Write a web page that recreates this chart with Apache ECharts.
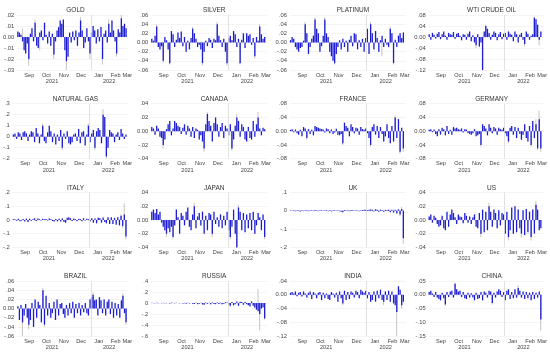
<!DOCTYPE html>
<html><head><meta charset="utf-8">
<script src="https://cdn.jsdelivr.net/npm/echarts@6/dist/echarts.min.js"></script>
<style>html,body{margin:0;padding:0;background:#fff}#c{width:550px;height:353px}</style>
</head><body><div id="c"></div>
<script>
// ---- data (returns, sampled roughly every other trading day, 26 Aug 2021 - 4 Mar 2022) ----
const panelNames = ['GOLD','SILVER','PLATINUM','WTI CRUDE OIL','NATURAL GAS','CANADA','FRANCE','GERMANY','ITALY','JAPAN','UK','US','BRAZIL','RUSSIA','INDIA','CHINA'];
const gold = [.005,.004,.002,-.004,-.012,-.015,-.006,-.02,.003,.008, -.004,.013,-.008,-.01,.004,.006,-.003,.013,.002,-.006, .005,-.008,.003,-.016,-.004,.006,.009,.015,.012,.016, -.012,-.022,-.018,.004,-.005,.005,-.003,.006,-.008,.004, .015,.006,-.01,-.005,.008,-.004,-.015,.004,.01,.006, -.006,.007,-.004,.009,-.02,.003,.006,-.005,.012,.004, .015,.006,-.004,-.015,.007,.004,.017,.01,.012,.008];
const silver = [.008,.004,.015,.035,-.01,-.015,-.008,-.04,.012,.005, -.015,-.045,.025,.018,-.01,.006,.022,.01,.024,-.008, .012,-.02,.004,-.015,.01,.03,.02,.008,-.01,-.005, -.015,-.045,-.02,.004,-.008,.01,.006,-.012,.008,.005, .04,.015,.005,-.01,.008,-.02,-.045,.01,.015,.005, .025,.018,-.01,.008,-.045,.006,.02,-.012,.02,.015, .018,-.005,.01,-.03,.012,.004,.035,.018,.008,.012];
const platinum = [.005,.012,.008,-.01,-.015,-.02,-.012,-.01,.004,.04, .02,-.025,-.01,.008,.015,.05,.03,.02,-.02,-.008, .015,.05,.02,.012,-.02,-.03,-.04,-.045,-.025,-.01, .005,-.015,.008,-.01,.004,-.02,.006,.015,-.008,.02, .018,-.015,.005,-.01,.008,-.02,.01,.03,-.025,.04, .02,-.015,.025,.01,-.02,.005,.015,-.01,.008,-.005, -.01,.03,.02,-.045,.006,-.01,.015,.02,.01,.022];
const wti = [.01,-.01,.015,.008,-.005,.012,.018,-.008,.01,.02, .005,-.01,.015,.01,.008,.018,-.006,.012,.015,.005, -.012,.01,.008,-.01,.012,.02,-.015,.006,-.02,-.03, .01,-.035,-.02,-.13,.02,.04,.03,.015,-.01,.008, .02,.015,-.012,.01,.018,-.008,.012,.015,-.01,.02, .012,.008,-.015,.02,.01,-.02,.008,.015,-.01,-.025, .02,.012,-.01,.005,.01,.07,.065,.045,-.01,.02];
const natgas = [.02,.03,-.02,.04,.03,-.03,.04,.05,.03,-.04, .02,.05,.04,-.05,.08,.03,-.06,.02,.1,-.04, -.06,.04,.1,.05,-.05,.03,-.07,.02,-.04,.06, -.1,.03,-.02,.05,-.06,-.07,-.05,.02,.03,-.04, .07,-.06,.04,.05,-.08,.02,.1,-.05,.03,.06, -.1,.05,.08,.06,-.06,.2,.18,-.18,-.1,.06, .04,.03,-.05,.02,.04,-.03,.07,.03,-.02,.02];
const canada = [.006,.004,-.005,.008,.004,-.008,-.01,-.02,-.012,.003, .01,.015,-.006,.004,.015,.012,.008,.006,-.004,.005, .01,-.005,.008,.004,-.008,.006,-.01,.004,.002,-.012, -.006,-.015,-.025,.01,.025,.015,.008,-.015,.012,.02, .01,-.008,.006,.012,-.01,.008,.004,-.006,.01,-.025, -.012,.008,.02,.015,-.008,.01,.006,-.012,-.015,.006, -.01,-.012,.015,-.008,.01,.02,.004,-.006,.005,.003];
const france = [.004,.006,-.003,.005,-.006,-.01,.004,-.015,.012,.008, -.02,.006,-.008,.004,-.012,.015,.012,.01,.008,.006, .005,-.004,.008,.006,-.006,.005,-.008,-.004,.007,-.01, -.012,-.008,-.035,.025,.015,.01,-.015,.02,.012,-.006, .01,.008,-.01,.012,.006,.004,.008,-.006,-.02,-.04, .012,.02,-.01,.015,-.02,.012,-.008,-.03,-.015,.02, -.02,-.035,.015,-.03,.04,-.02,.035,-.06,.01,-.05];
const germany = [.004,.006,-.003,.005,-.008,-.015,.006,-.01,.01,.006, -.012,.015,-.008,.004,-.01,.012,.008,.01,.006,.004, .008,-.004,.006,.005,-.005,-.008,-.01,-.006,.006,-.015, -.012,-.008,-.04,.02,.015,.008,-.012,.02,.01,-.006, .012,.008,-.01,.01,.006,.004,.01,-.006,-.015,-.03, .01,.015,-.01,.012,-.02,.01,-.008,-.025,-.01,.02, -.02,-.03,.015,-.04,.03,-.02,.02,-.05,.035,-.05];
const italy = [.005,.004,-.006,.008,-.01,-.005,.006,-.012,.01,-.015, .008,-.006,.004,.012,-.008,.01,.006,-.004,.008,.005, .006,-.004,.01,.005,-.008,-.012,.006,-.01,.008,-.012, .01,-.015,-.02,.015,.02,.012,-.008,.01,.006,-.01, .008,.006,-.01,.012,-.005,.008,.006,-.01,.012,-.02, .01,-.025,.015,.012,-.02,.018,-.015,-.025,.02,-.03, .02,-.03,.015,-.035,.02,-.04,.03,-.045,.04,-.12];
const japan = [.012,.015,.01,.016,.008,.012,-.004,-.01,-.015,-.02, -.012,-.018,-.01,-.025,-.008,.015,.004,-.02,.01,.006, -.008,.012,.018,-.01,-.015,.008,.02,-.012,.005,.01, -.008,.012,-.02,.006,-.015,.01,.008,-.02,.012,-.006, .004,-.01,.008,-.012,.006,-.008,.012,-.015,-.025,-.01, .015,-.02,-.04,.018,.012,-.015,.01,-.018,.008,-.012, .01,-.015,.012,-.02,-.008,.01,.004,-.015,.008,-.025];
const uk = [.002,-.002,.003,-.003,.002,.002,-.004,.003,-.002,.002, .003,-.003,.002,.002,-.002,.004,.002,-.003,.002,.003, -.002,.002,.003,-.003,.002,-.004,.003,.002,-.002,.003, -.003,-.005,-.008,.004,.003,.002,-.003,.004,.003,-.002, .003,.002,-.003,.002,.004,.005,.006,.004,.005,.007, .006,-.004,.008,.005,-.005,.006,.004,-.006,.005,.004, .006,-.008,.005,-.01,.006,-.015,.008,-.02,.01,-.15];
const us = [.005,.008,-.004,.006,.003,-.006,-.01,-.008,.006,-.012, -.015,.012,-.01,.008,.015,.01,.004,-.006,.008,.005, .004,-.005,.01,.006,-.004,.005,-.006,.004,.008,-.01, -.012,.01,-.02,.015,-.018,.012,-.015,.02,.012,-.01, .015,.01,-.012,.014,-.008,.01,.008,-.02,.012,-.025, -.015,.018,-.02,.02,-.018,.015,-.012,-.02,.014,-.022, .016,-.018,.012,-.025,.015,-.02,.022,.015,-.015,-.012];
const brazil = [.005,-.025,.008,-.03,-.015,.01,-.02,-.035,-.025,.012, -.04,.02,-.02,.015,.008,-.03,.04,-.035,.028,-.015, .012,-.02,-.01,.015,-.025,.02,-.015,.01,.012,-.012, -.02,.008,-.015,.012,-.01,.015,-.02,.01,-.01,.012, -.015,.008,-.008,.012,-.01,-.015,.02,.025,.03,.018, .02,-.015,.025,.018,-.01,.02,-.015,.015,.02,-.012, .015,-.02,.012,-.015,.01,-.02,.018,.028,-.01,-.03];
const russia = [.005,.003,-.004,.006,-.003,.004,-.005,.006,-.004,.005, .004,-.006,.008,.005,-.004,.006,.003,-.005,.004,-.008, .006,-.01,.005,-.008,.004,-.012,-.015,.006,-.02,-.01, .008,-.025,-.03,.01,-.015,.008,-.02,.01,-.015,-.02, .01,-.015,.008,-.02,-.01,.015,.01,-.03,-.05,.02, -.04,-.02,.03,-.05,.025,.02,-.03,.02,-.02,-.04, -.06,.03,-.05,-.08,-.12,-.15,-.2,-.1,-.08,-.28];
const india = [.006,.008,.004,.01,-.004,.006,.008,-.005,.01,.004, -.008,.006,.01,-.012,.008,.004,-.01,.006,.008,-.015, .006,-.01,.004,-.012,-.015,.008,.004,-.008,.006,-.02, .01,-.01,-.025,.012,-.015,.008,-.012,.01,.006,-.008, .012,.008,-.01,.015,.01,.006,.012,-.01,.008,-.02, -.015,.01,-.02,.012,-.01,.015,-.015,-.02,.01,-.015, .012,-.02,.01,-.025,-.03,-.05,.025,.015,-.03,-.02];
const china = [.01,.015,.005,-.008,.01,-.01,-.015,-.02,.008,-.012, -.035,.01,-.008,.012,.015,-.01,.04,.02,.012,.015, -.008,.01,-.012,-.015,.008,-.01,.006,-.01,-.02,.008, -.015,-.012,.01,-.02,.012,.008,-.01,.015,.012,-.03, .008,-.01,.012,.02,.015,-.008,.01,-.02,.015,.02, -.015,.01,-.012,.02,-.01,.025,.015,-.01,.012,-.015, .01,-.012,.008,-.02,.01,-.015,.008,-.01,.012,-.09];

// light grey spikes: [sample index, value]
const grayGold = [[3,.008],[7,-.026],[11,.016],[14,-.012],[23,-.02],[31,-.03],[40,.018],[46,-.02],[54,-.025],[58,.016],[63,-.018],[66,.02]];
const graySilver = [[3,.04],[7,-.045],[11,-.048],[25,.034],[31,-.05],[40,.045],[46,-.05],[54,-.048],[63,-.035],[66,.04]];
const grayPlatinum = [[9,.045],[15,.055],[21,.055],[27,-.048],[49,.045],[56,-.03],[61,.035],[63,-.048]];
const grayWti = [[33,-.14],[35,.045],[29,-.04],[59,-.035],[65,.075],[68,-.03]];
const grayNatgas = [[18,.12],[30,-.12],[46,.12],[55,.25],[57,-.2],[50,-.12]];
const grayCanada = [[7,-.025],[32,-.03],[34,.028],[49,-.028],[52,.025],[65,.028]];
const grayFrance = [[10,-.025],[32,-.04],[49,-.045],[64,.045],[67,-.065],[69,-.06]];
const grayGermany = [[32,-.045],[49,-.035],[63,-.045],[66,.035],[67,-.055],[68,.06],[69,-.06]];
const grayItaly = [[66,.04],[67,-.06],[68,.12],[69,-.14]];
const grayJapan = [[9,-.025],[13,-.028],[26,.025],[37,-.025],[48,-.028],[52,-.045],[53,.022],[69,-.028]];
const grayUk = [[67,-.03],[68,.02],[69,-.18]];
const grayUs = [[32,-.025],[37,.025],[49,-.03],[57,-.026],[63,-.03],[66,.028]];
const grayBrazil = [[3,-.06],[7,-.045],[16,.045],[17,-.04],[48,.035],[67,.033],[69,-.035]];
const grayRussia = [[48,-.07],[63,-.1],[65,.25],[66,-.5],[69,-.3]];
const grayIndia = [[32,-.03],[57,-.03],[65,-.12],[68,-.04]];
const grayChina = [[10,-.04],[16,.045],[39,-.035],[55,.035],[69,-.13]];

// y-axis ticks per panel
const yMin  = [-.03,-.06,-.06,-.12,-.2,-.04,-.08,-.08,-.2,-.04,-.2,-.04,-.06,-.6,-.12,-.15];
const yMax  = [.02,.06,.06,.08,.3,.04,.08,.08,.2,.04,.1,.04,.06,.4,.04,.05];
const yStep = [.01,.02,.02,.04,.1,.02,.04,.04,.1,.02,.1,.02,.02,.2,.04,.05];

// x axis: days since 25 Aug 2021
const monthLabels = ['Sep','Oct','Nov','Dec','Jan','Feb','Mar'];
const monthDays = [21,51,82,112,143,172.5,193];
const yearLabels = ['2021','2022'];
const yearDays = [61,161];
const yearBreakDay = 129; // 1 Jan 2022
const firstDay = 1, stepDays = 2.75;

const values = [gold,silver,platinum,wti,natgas,canada,france,germany,italy,japan,uk,us,brazil,russia,india,china];
const grays = [grayGold,graySilver,grayPlatinum,grayWti,grayNatgas,grayCanada,grayFrance,grayGermany,grayItaly,grayJapan,grayUk,grayUs,grayBrazil,grayRussia,grayIndia,grayChina];

const FONT = 'Liberation Sans';
function fmt(v, dec){
  const p = Math.pow(10,dec);
  const r = Math.round(v*p)/p;
  if (Math.abs(r) < 1e-9) return dec === 2 ? '0.00' : '0';
  return (r<0?'-':'') + Math.abs(r).toFixed(dec).replace(/^0/,'');
}

const grid=[], xAxis=[], yAxis=[], series=[], title=[];
const W = 116, H = 55;
panelNames.forEach((name,k)=>{
  const r = Math.floor(k/4), c = k%4;
  const left = 12.5 + c*138.7, top = 15 + r*88.7;
  grid.push({left:left, top:top, width:W, height:H});
  title.push({text:name, left:left+W/2, top:top-13, textAlign:'center',
    textStyle:{fontSize:6.5, fontWeight:'normal', color:'#333', fontFamily:FONT}});
  xAxis.push({gridIndex:k, type:'value', min:0, max:195,
    axisLine:{show:false}, axisTick:{show:false}, splitLine:{show:false},
    axisLabel:{customValues:monthDays, formatter:(v)=>monthLabels[monthDays.indexOf(v)]||'',
      fontSize:5.6, margin:2, color:'#444', fontFamily:FONT, hideOverlap:false}});
  xAxis.push({gridIndex:k, type:'value', min:0, max:195, position:'bottom', offset:6.5,
    axisLine:{show:false}, axisTick:{show:false}, splitLine:{show:false},
    axisLabel:{customValues:yearDays, formatter:(v)=>yearLabels[yearDays.indexOf(v)]||'',
      fontSize:5.6, margin:2, color:'#444', fontFamily:FONT, hideOverlap:false}});
  const dec = yStep[k] < 0.1 - 1e-9 ? 2 : 1;
  yAxis.push({gridIndex:k, type:'value', min:yMin[k], max:yMax[k], interval:yStep[k],
    axisLine:{show:false}, axisTick:{show:false},
    splitLine:{show:true, lineStyle:{color:'#ececec', width:0.6}},
    axisLabel:{fontSize:5.8, margin:3, color:'#444', fontFamily:FONT, formatter:(v)=>fmt(v,dec)}});
  series.push({type:'bar', xAxisIndex:2*k, yAxisIndex:k, silent:true, z:1,
    barWidth:1, barGap:'-100%',
    itemStyle:{color:'#c4c4c4'},
    data: grays[k].map(([i,v])=>[firstDay+i*stepDays, v])});
  series.push({type:'bar', xAxisIndex:2*k, yAxisIndex:k, silent:true, z:2,
    barWidth:1.3, barGap:'-100%',
    itemStyle:{color:'#1c1cd2'},
    data: values[k].map((v,i)=>[firstDay+i*stepDays, v]),
    markLine:{silent:true, symbol:'none', label:{show:false},
      lineStyle:{color:'#d9d9d9', width:0.8, type:'solid'},
      data:[{xAxis:yearBreakDay}]}});
});

const chart = echarts.init(document.getElementById('c'), null, {renderer:'canvas'});
chart.setOption({animation:false, backgroundColor:'#fff', title, grid, xAxis, yAxis, series});
</script></body></html>
